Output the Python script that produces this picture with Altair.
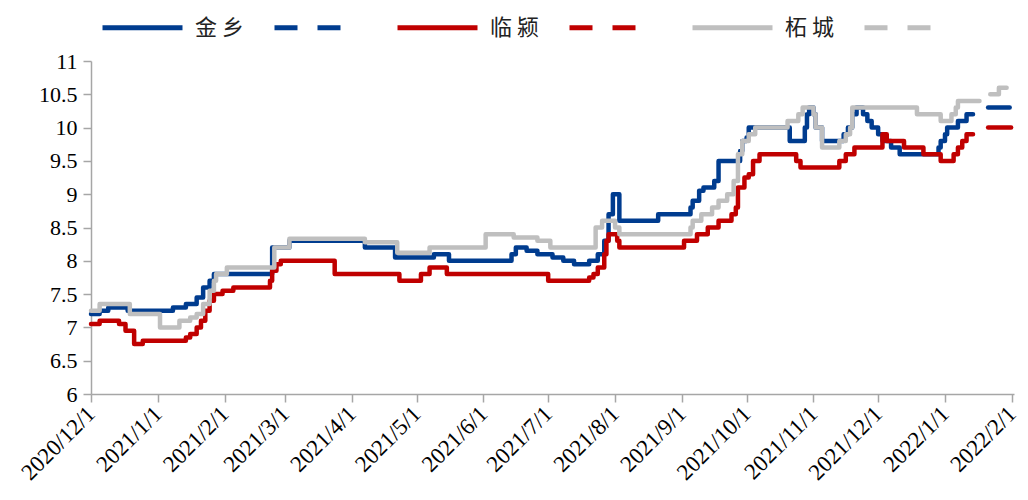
import altair as alt
import pandas as pd

# ---- data (step series: date of change, value) ----
jx_dates = ["2020-12-01", "2020-12-05", "2020-12-09", "2020-12-18", "2021-01-08", "2021-01-14",
            "2021-01-19", "2021-01-22", "2021-01-25", "2021-01-27", "2021-02-23", "2021-03-03",
            "2021-04-07", "2021-04-21", "2021-05-09", "2021-05-16", "2021-06-14", "2021-06-16",
            "2021-06-21", "2021-06-26", "2021-07-03", "2021-07-08", "2021-07-13", "2021-07-20",
            "2021-07-24", "2021-07-27", "2021-07-29", "2021-07-31", "2021-08-03", "2021-08-21",
            "2021-09-05", "2021-09-06", "2021-09-09", "2021-09-11", "2021-09-16", "2021-09-18",
            "2021-09-28", "2021-09-29", "2021-10-01", "2021-10-02", "2021-10-21", "2021-10-28",
            "2021-10-29", "2021-10-30", "2021-11-01", "2021-11-02", "2021-11-05", "2021-11-15",
            "2021-11-17", "2021-11-19", "2021-11-21", "2021-11-24", "2021-11-26", "2021-11-28",
            "2021-12-01", "2021-12-03", "2021-12-07", "2021-12-11", "2021-12-29", "2021-12-30",
            "2022-01-01", "2022-01-02", "2022-01-07", "2022-01-11", "2022-01-14"]
jx_vals = [7.2, 7.25, 7.3, 7.25, 7.3, 7.35,
           7.45, 7.6, 7.7, 7.8, 8.2, 8.3,
           8.2, 8.05, 8.1, 8.0, 8.1, 8.2,
           8.15, 8.1, 8.05, 8.0, 7.95, 8.0,
           8.1, 8.3, 8.7, 9.0, 8.6, 8.7,
           8.8, 8.9, 9.05, 9.1, 9.2, 9.5,
           9.65, 9.8, 9.85, 10.0, 9.8, 10.0,
           10.2, 10.3, 10.2, 10.0, 9.8, 9.9,
           10.0, 10.2, 10.3, 10.2, 10.1, 10.0,
           9.9, 9.8, 9.7, 9.6, 9.7, 9.8,
           9.9, 10.0, 10.1, 10.2, 10.2]

lz_dates = ["2020-12-01", "2020-12-05", "2020-12-14", "2020-12-17", "2020-12-21", "2020-12-25",
            "2021-01-14", "2021-01-16", "2021-01-19", "2021-01-21", "2021-01-23", "2021-01-25",
            "2021-01-27", "2021-01-31", "2021-02-05", "2021-02-22", "2021-02-23", "2021-02-25",
            "2021-02-27", "2021-03-24", "2021-04-23", "2021-05-03", "2021-05-07", "2021-05-15",
            "2021-07-01", "2021-07-20", "2021-07-22", "2021-07-24", "2021-07-27", "2021-07-28",
            "2021-07-29", "2021-08-02", "2021-08-03", "2021-09-02", "2021-09-08", "2021-09-13",
            "2021-09-18", "2021-09-24", "2021-09-26", "2021-09-27", "2021-09-30", "2021-10-02",
            "2021-10-04", "2021-10-07", "2021-10-24", "2021-10-26", "2021-11-13", "2021-11-16",
            "2021-11-20", "2021-12-03", "2021-12-05", "2021-12-13", "2021-12-22", "2021-12-30",
            "2022-01-05", "2022-01-07", "2022-01-09", "2022-01-11", "2022-01-14"]
lz_vals = [7.05, 7.1, 7.05, 6.95, 6.75, 6.8,
           6.85, 6.9, 7.0, 7.1, 7.25, 7.4,
           7.5, 7.55, 7.6, 7.7, 7.85, 7.95,
           8.0, 7.8, 7.7, 7.8, 7.9, 7.8,
           7.7, 7.75, 7.8, 7.9, 8.1, 8.3,
           8.4, 8.3, 8.2, 8.3, 8.4, 8.5,
           8.6, 8.7, 8.8, 9.1, 9.25, 9.3,
           9.5, 9.6, 9.5, 9.4, 9.5, 9.6,
           9.7, 9.9, 9.8, 9.7, 9.6, 9.5,
           9.6, 9.7, 9.8, 9.9, 9.9]

zc_dates = ["2020-12-01", "2020-12-05", "2020-12-19", "2021-01-02", "2021-01-11", "2021-01-16",
            "2021-01-19", "2021-01-22", "2021-01-25", "2021-01-27", "2021-01-28", "2021-02-02",
            "2021-02-24", "2021-03-03", "2021-04-07", "2021-04-22", "2021-05-07", "2021-06-02",
            "2021-06-15", "2021-06-26", "2021-07-02", "2021-07-23", "2021-07-26", "2021-08-01",
            "2021-08-03", "2021-09-05", "2021-09-06", "2021-09-10", "2021-09-15", "2021-09-18",
            "2021-09-22", "2021-09-25", "2021-09-27", "2021-09-29", "2021-10-02", "2021-10-05",
            "2021-10-20", "2021-10-25", "2021-10-27", "2021-11-01", "2021-11-02", "2021-11-05",
            "2021-11-13", "2021-11-16", "2021-11-18", "2021-11-19", "2021-12-19", "2021-12-30",
            "2022-01-04", "2022-01-06", "2022-01-07", "2022-01-17"]
zc_vals = [7.25, 7.35, 7.2, 7.0, 7.1, 7.15,
           7.2, 7.35, 7.55, 7.7, 7.8, 7.9,
           8.2, 8.33, 8.28, 8.12, 8.2, 8.4,
           8.35, 8.3, 8.2, 8.5, 8.6, 8.5,
           8.4, 8.5, 8.6, 8.7, 8.8, 8.9,
           9.0, 9.2, 9.6, 9.8, 9.9, 10.0,
           10.1, 10.2, 10.3, 10.2, 10.0, 9.7,
           9.8, 9.9, 10.0, 10.3, 10.2, 10.1,
           10.2, 10.3, 10.4, 10.4]

# forecast (dashed) segments
jx_f_dates = ["2022-01-21", "2022-01-31"]
jx_f_vals = [10.3, 10.3]
lz_f_dates = ["2022-01-21", "2022-02-01"]
lz_f_vals = [10.0, 10.0]
zc_f_dates = ["2022-01-22", "2022-01-26", "2022-02-01"]
zc_f_vals = [10.5, 10.6, 10.6]

series_names = ["金乡", "金乡 预测", "临颍", "临颍 预测", "柘城", "柘城 预测"]
series_colors = ["#003C8F", "#003C8F", "#C00000", "#C00000", "#BFBFBF", "#BFBFBF"]
series_dashes = [[1, 0], [23, 20], [1, 0], [23, 20], [1, 0], [23, 20]]
y_ticks = [6, 6.5, 7, 7.5, 8, 8.5, 9, 9.5, 10, 10.5, 11]

parts = [
    ("金乡", jx_dates, jx_vals), ("金乡 预测", jx_f_dates, jx_f_vals),
    ("临颍", lz_dates, lz_vals), ("临颍 预测", lz_f_dates, lz_f_vals),
    ("柘城", zc_dates, zc_vals), ("柘城 预测", zc_f_dates, zc_f_vals),
]
df = pd.concat(
    [pd.DataFrame({"date": pd.to_datetime(d), "value": v, "series": n}) for n, d, v in parts],
    ignore_index=True,
)

legend = alt.Legend(
    title=None,
    labelExpr=("indexof(datum.label, '预测') >= 0 ? '' : "
               "substring(datum.label, 0, 1) + ' ' + substring(datum.label, 1) + '    '"),
)

chart = (
    alt.Chart(df)
    .mark_line(interpolate="step-after", strokeWidth=4.5, strokeCap="round", strokeJoin="round")
    .encode(
        x=alt.X(
            "date:T",
            scale=alt.Scale(domain=[alt.DateTime(year=2020, month=12, date=1),
                                    alt.DateTime(year=2022, month=2, date=2)]),
            axis=alt.Axis(title=None, format="%Y/%-m/%-d", labelAngle=-45,
                          labelAlign="right", labelBaseline="middle",
                          tickCount={"interval": "month", "step": 1}, labelPadding=8,
                          labelOverlap=False, labelFontSize=23),
        ),
        y=alt.Y(
            "value:Q",
            scale=alt.Scale(domain=[6, 11], nice=False, zero=False),
            axis=alt.Axis(title=None, values=y_ticks, format="~g", labelPadding=6),
        ),
        color=alt.Color("series:N", scale=alt.Scale(domain=series_names, range=series_colors),
                        legend=legend),
        strokeDash=alt.StrokeDash("series:N",
                                  scale=alt.Scale(domain=series_names, range=series_dashes),
                                  legend=legend),
    )
    .properties(
        width=923,
        height=333,
        autosize=alt.AutoSizeParams(type="none"),
        padding={"left": 83, "top": 53, "right": 6, "bottom": 98},
    )
    .configure_view(stroke=None)
    .configure_axis(
        grid=False,
        domainColor="#A6A6A6",
        domainWidth=1.5,
        tickColor="#A6A6A6",
        tickWidth=1.5,
        tickSize=8,
        labelFont="Liberation Serif",
        labelFontSize=22,
        labelColor="#000000",
    )
    .configure_legend(
        orient="none",
        legendX=9,
        legendY=-76,
        direction="horizontal",
        columns=6,
        symbolType="stroke",
        symbolSize=6400,
        symbolStrokeWidth=5,
        labelFont="Noto Sans CJK SC",
        labelFontSize=22,
        labelColor="#222222",
        labelOffset=10,
        columnPadding=20,
        padding=0,
    )
)

chart.save("out.html", embed_options={"renderer": "svg", "actions": False})
